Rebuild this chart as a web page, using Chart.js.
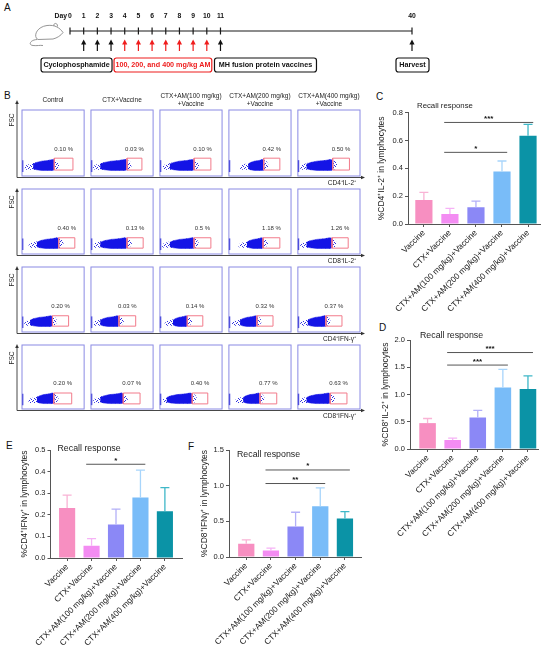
<!DOCTYPE html>
<html><head><meta charset="utf-8">
<script src="https://cdn.jsdelivr.net/npm/chart.js@4.4.1/dist/chart.umd.min.js"></script>
<style>
html,body{margin:0;padding:0;background:#fff;}
body{width:550px;height:653px;overflow:hidden;position:relative;font-family:'Liberation Sans',Arial,sans-serif;}
canvas{position:absolute;}
.pl{position:absolute;font-size:10px;line-height:10px;color:#111;}
</style></head><body>
<div class="pl" style="left:4px;top:3px">A</div>
<div class="pl" style="left:4px;top:91px">B</div>
<div class="pl" style="left:376px;top:92px">C</div>
<div class="pl" style="left:379px;top:323px">D</div>
<div class="pl" style="left:6px;top:441px">E</div>
<div class="pl" style="left:188px;top:442px">F</div>
<script>
// ---------------- data ----------------
const timelineDays = [0,1,2,3,4,5,6,7,8,9,10,11,40];
const cyclophosphamideDays = [1,2,3];
const amDays = [4,5,6,7,8,9,10];
const vaccineDays = [11];
const harvestDays = [40];
const stepLabels = ['Cyclophosphamide','100, 200, and 400 mg/kg AM','MH fusion protein vaccines','Harvest'];

const flowGroups = [['Control'],['CTX+Vaccine'],['CTX+AM(100 mg/kg)','+Vaccine'],['CTX+AM(200 mg/kg)','+Vaccine'],['CTX+AM(400 mg/kg)','+Vaccine']];
const flowMarkers = ['CD4⁺IL-2⁺','CD8⁺IL-2⁺','CD4⁺IFN-γ⁺','CD8⁺IFN-γ⁺'];
const flowPercents = [
  ['0.10 %','0.03 %','0.10 %','0.42 %','0.50 %'],
  ['0.40 %','0.13 %','0.5 %','1.18 %','1.26 %'],
  ['0.20 %','0.03 %','0.14 %','0.32 %','0.37 %'],
  ['0.20 %','0.07 %','0.40 %','0.77 %','0.63 %']];
const gateLeft  = [[52,58,55,56,56],[59,58,55,55,55],[49,45,44,45,45],[51,52,52,50,52]];
const gateRight = [[82,82,82,82,83],[85,84,82,82,81],[75,72,69,71,71],[80,79,77,77,79]];
const gateLow  = [9,9,9,8];
const gateHigh = [27,25,25,25];
const cloudStart = [[18,15,16,31,14],[24,15,16,29,14],[13,15,21,18,16],[24,15,11,23,14]];
const cloudT     = [0,0.15,0.4,0.7,0.92,1];
const cloudUpper = [18,20.5,22.5,23.5,25,24];
const cloudLower = [11,9.5,8.5,8.5,8.5,9.5];

const groups = ['Vaccine','CTX+Vaccine','CTX+AM(100 mg/kg)+Vaccine','CTX+AM(200 mg/kg)+Vaccine','CTX+AM(400 mg/kg)+Vaccine'];
const cd4Il2Mean = [0.172,0.072,0.12,0.378,0.634];
const cd4Il2Err  = [0.056,0.041,0.045,0.075,0.082];
const cd8Il2Mean = [0.475,0.165,0.578,1.13,1.10];
const cd8Il2Err  = [0.085,0.035,0.132,0.33,0.24];
const cd4IfnMean = [0.231,0.057,0.155,0.28,0.217];
const cd4IfnErr  = [0.06,0.033,0.071,0.127,0.109];
const cd8IfnMean = [0.186,0.092,0.427,0.711,0.538];
const cd8IfnErr  = [0.054,0.033,0.2,0.259,0.098];
const cd4Il2Sig = [[1,3,0.515,'*'],[1,4,0.73,'***']];
const cd8Il2Sig = [[1,3,1.54,'***'],[1,4,1.77,'***']];
const cd4IfnSig = [[1,3,0.434,'*']];
const cd8IfnSig = [[1,3,1.03,'**'],[1,4,1.22,'*']];

// ---------------- styles ----------------
const barColors = ['#f78fc1','#f38cf2','#8b88f6','#79bcf8','#0b93a6'];
const errColors = ['#f9b3d5','#f6b2f6','#b3b0f8','#a8d5fb','#3fb8c8'];
const FONT = "'Liberation Sans', Arial, sans-serif";

Chart.defaults.font.family = FONT;
Chart.defaults.color = '#222';
Chart.defaults.animation = false;
Chart.defaults.events = [];
Chart.defaults.plugins.legend.display = false;
Chart.defaults.plugins.tooltip.enabled = false;

function makeCanvas(left, top, w, h) {
  const c = document.createElement('canvas');
  c.width = w; c.height = h;
  c.style.left = left + 'px'; c.style.top = top + 'px';
  c.style.width = w + 'px'; c.style.height = h + 'px';
  document.body.appendChild(c);
  return c;
}
function rrect(ctx, x, y, w, h, r) {
  ctx.beginPath();
  ctx.moveTo(x + r, y); ctx.lineTo(x + w - r, y); ctx.quadraticCurveTo(x + w, y, x + w, y + r);
  ctx.lineTo(x + w, y + h - r); ctx.quadraticCurveTo(x + w, y + h, x + w - r, y + h);
  ctx.lineTo(x + r, y + h); ctx.quadraticCurveTo(x, y + h, x, y + h - r);
  ctx.lineTo(x, y + r); ctx.quadraticCurveTo(x, y, x + r, y); ctx.closePath();
}
// speckle pattern for the sparse part of the flow clouds
const speckle = (() => {
  const p = document.createElement('canvas'); p.width = 4; p.height = 4;
  const g = p.getContext('2d'); g.fillStyle = '#3030e0';
  [[0,0],[2,1],[1,3],[3,2]].forEach(([x, y]) => g.fillRect(x, y, 1, 1));
  return g.createPattern(p, 'repeat');
})();

// ---------------- A: timeline ----------------
const slotOf = d => d <= 11 ? d : 25;
const timelinePlugin = {
  id: 'timeline',
  afterDraw(chart) {
    const ctx = chart.ctx, xs = chart.scales.x, y0 = chart.scales.y.getPixelForValue(0);
    const px = d => xs.getPixelForValue(slotOf(d));
    ctx.save();
    ctx.fillStyle = '#111'; ctx.font = 'bold 6.8px ' + FONT;
    ctx.textAlign = 'center'; ctx.textBaseline = 'middle';
    timelineDays.forEach(d => ctx.fillText(String(d), px(d), y0 - 15));
    ctx.textAlign = 'right'; ctx.fillText('Day', px(0) - 3, y0 - 15);
    const arrow = (x, color) => {
      ctx.strokeStyle = color; ctx.fillStyle = color; ctx.lineWidth = 1.2;
      ctx.beginPath(); ctx.moveTo(x, y0 + 20); ctx.lineTo(x, y0 + 12); ctx.stroke();
      ctx.beginPath(); ctx.moveTo(x, y0 + 8.5); ctx.lineTo(x - 2.6, y0 + 13.5); ctx.lineTo(x + 2.6, y0 + 13.5); ctx.closePath(); ctx.fill();
    };
    [...cyclophosphamideDays, ...vaccineDays, ...harvestDays].forEach(d => arrow(px(d), '#111'));
    amDays.forEach(d => arrow(px(d), '#f01c1c'));
    const box = (x1, x2, text, color) => {
      ctx.strokeStyle = color; ctx.lineWidth = 1.2;
      rrect(ctx, x1, y0 + 27, x2 - x1, 14, 2.5); ctx.stroke();
      ctx.fillStyle = color; ctx.font = 'bold 7.2px ' + FONT; ctx.textAlign = 'center'; ctx.textBaseline = 'middle';
      ctx.fillText(text, (x1 + x2) / 2, y0 + 34.3);
    };
    box(px(3) - 70, px(3) + 1, stepLabels[0], '#111');
    box(px(3) + 3, px(10) + 5, stepLabels[1], '#ee1c1c');
    box(px(11) - 6, px(11) + 96, stepLabels[2], '#111');
    box(px(40) - 16, px(40) + 17, stepLabels[3], '#111');
    // mouse outline
    ctx.strokeStyle = '#8a8a8a'; ctx.lineWidth = 0.9;
    ctx.beginPath();
    ctx.moveTo(38, 39.5);
    ctx.bezierCurveTo(33, 37, 36, 27, 47, 25.5);
    ctx.bezierCurveTo(55, 24.5, 60, 28, 63, 32.5);
    ctx.bezierCurveTo(61, 35.5, 57, 38, 53, 39);
    ctx.lineTo(38, 39.5); ctx.stroke();
    ctx.beginPath(); ctx.moveTo(54, 26); ctx.bezierCurveTo(53, 22.5, 58, 22.5, 57.5, 26.5); ctx.stroke();
    ctx.beginPath(); ctx.moveTo(37, 39.5); ctx.bezierCurveTo(30, 40, 28, 45, 33, 45.5); ctx.bezierCurveTo(37, 46, 40, 45, 43, 45.5); ctx.stroke();
    ctx.restore();
  }
};
new Chart(makeCanvas(0, 0, 550, 85), {
  type: 'scatter',
  data: { datasets: [{ data: timelineDays.map(d => ({ x: slotOf(d), y: 0 })), showLine: true,
    borderColor: '#1a1a1a', borderWidth: 1.2, pointStyle: 'line', rotation: 90, pointRadius: 3.5,
    pointBorderWidth: 1.2, pointBorderColor: '#1a1a1a', clip: false }] },
  options: { responsive: false, layout: { padding: { left: 70, right: 138, top: 20, bottom: 43 } },
    scales: { x: { type: 'linear', min: 0, max: 25, display: false }, y: { min: -1, max: 1, display: false } } },
  plugins: [timelinePlugin]
});

// ---------------- B: flow plots ----------------
const rowBoxTop = [110, 189, 267, 345];
const rowBoxBottom = [176, 254, 332, 409];
const PITCH = 111;
function flowRow(r) {
  const topExtra = r === 0 ? 26 : 12, bottomExtra = 12;
  const ct = rowBoxTop[r] - topExtra;
  const h = rowBoxBottom[r] + bottomExtra - ct;
  const datasets = [];
  for (let c = 0; c < 5; c++) {
    const ox = c * PITCH, s = cloudStart[r][c], g = gateLeft[r][c], gr = gateRight[r][c];
    const lo = Math.max(3, s - 14);
    datasets.push({ order: 4, data: [{x:ox+lo,y:12},{x:ox+lo+3,y:16.5},{x:ox+s+2,y:20},{x:ox+g-2,y:25.5},{x:ox+g+5,y:22},{x:ox+g+8,y:16},{x:ox+g+5,y:11},{x:ox+g,y:8.5},{x:ox+s,y:9.5},{x:ox+lo+3,y:9.5}],
      showLine: true, fill: 'shape', backgroundColor: speckle, borderWidth: 0, pointRadius: 0 });
    const up = cloudT.map((t, i) => ({ x: ox + s + t * (g - s), y: cloudUpper[i] }));
    const dn = cloudT.map((t, i) => ({ x: ox + s + t * (g - s), y: cloudLower[i] })).reverse();
    datasets.push({ order: 3, data: up.concat(dn), showLine: true, fill: 'shape', backgroundColor: '#1414e6', borderColor: '#1414e6', borderWidth: 0.5, pointRadius: 0 });
    datasets.push({ order: 2, data: [{x:ox+g,y:gateLow[r]},{x:ox+gr,y:gateLow[r]},{x:ox+gr,y:gateHigh[r]},{x:ox+g,y:gateHigh[r]},{x:ox+g,y:gateLow[r]}],
      showLine: true, fill: false, borderColor: '#f27b8b', borderWidth: 1, pointRadius: 0 });
    datasets.push({ order: 1, data: [{x:ox+1,y:6},{x:ox+1,y:24}], showLine: true, fill: false, borderColor: '#2a2ad8', borderWidth: 1.4, pointRadius: 0 });
  }
  const plug = {
    id: 'flow' + r,
    afterDraw(chart) {
      const ctx = chart.ctx, xs = chart.scales.x, ys = chart.scales.y;
      const yb = ys.getPixelForValue(0), yt = ys.getPixelForValue(100);
      ctx.save();
      for (let c = 0; c < 5; c++) {
        const x1 = xs.getPixelForValue(c * PITCH), x2 = xs.getPixelForValue(c * PITCH + 100);
        ctx.strokeStyle = '#8a8ae4'; ctx.lineWidth = 1;
        ctx.strokeRect(x1, yt, x2 - x1, yb - yt);
        ctx.fillStyle = '#333'; ctx.font = '6px ' + FONT; ctx.textAlign = 'center'; ctx.textBaseline = 'middle';
        ctx.fillText(flowPercents[r][c], xs.getPixelForValue(c * PITCH + (gateLeft[r][c] + gateRight[r][c]) / 2), ys.getPixelForValue(40));
        if (r === 0) {
          ctx.fillStyle = '#222'; ctx.font = '6.5px ' + FONT;
          const lines = flowGroups[c], cx = (x1 + x2) / 2;
          if (lines.length === 1) ctx.fillText(lines[0], cx, yt - 10);
          else { ctx.fillText(lines[0], cx, yt - 14); ctx.fillText(lines[1], cx, yt - 6); }
        }
      }
      const ax = xs.getPixelForValue(0) - 5, ay = yb + 1.5;
      const tip = yt - (r === 0 ? 10 : 1);
      const xe = xs.getPixelForValue(5 * PITCH - 11) + 5;
      ctx.strokeStyle = '#333'; ctx.fillStyle = '#333'; ctx.lineWidth = 0.9;
      ctx.beginPath(); ctx.moveTo(ax, ay); ctx.lineTo(ax, tip + 3); ctx.moveTo(ax, ay); ctx.lineTo(xe - 3, ay); ctx.stroke();
      ctx.beginPath(); ctx.moveTo(ax, tip); ctx.lineTo(ax - 1.8, tip + 4); ctx.lineTo(ax + 1.8, tip + 4); ctx.closePath(); ctx.fill();
      ctx.beginPath(); ctx.moveTo(xe, ay); ctx.lineTo(xe - 4, ay - 1.8); ctx.lineTo(xe - 4, ay + 1.8); ctx.closePath(); ctx.fill();
      ctx.fillStyle = '#222'; ctx.font = '6.5px ' + FONT;
      ctx.save(); ctx.translate(ax - 5, yt + (r === 0 ? 10 : 13)); ctx.rotate(-Math.PI / 2);
      ctx.textAlign = 'center'; ctx.textBaseline = 'middle'; ctx.fillText('FSC', 0, 0); ctx.restore();
      ctx.textAlign = 'right'; ctx.textBaseline = 'middle';
      ctx.fillText(flowMarkers[r], xe - 9, ay + 5.5);
      ctx.restore();
    }
  };
  new Chart(makeCanvas(0, ct, 372, h), {
    type: 'scatter',
    data: { datasets },
    options: { responsive: false,
      layout: { padding: { left: 22, right: 12, top: topExtra, bottom: bottomExtra } },
      scales: { x: { type: 'linear', min: 0, max: 5 * PITCH - 11, display: false }, y: { min: 0, max: 100, display: false } } },
    plugins: [plug]
  });
}
for (let r = 0; r < 4; r++) flowRow(r);

// ---------------- C-F: bar charts ----------------
function barChart(o) {
  const ct = Math.round(o.pt - 14);
  const cl = o.cl, cr = Math.round(o.pr + 10);
  const w = cr - cl, h = Math.round(o.pb + o.xh - ct);
  const extras = {
    id: 'extras',
    afterDatasetsDraw(chart) {
      const ctx = chart.ctx, ys = chart.scales.y, xs = chart.scales.x, area = chart.chartArea;
      const bars = chart.getDatasetMeta(0).data;
      ctx.save();
      bars.forEach((b, i) => {
        const yTop = ys.getPixelForValue(o.mean[i] + o.err[i]);
        ctx.strokeStyle = errColors[i]; ctx.lineWidth = 1.3;
        ctx.beginPath(); ctx.moveTo(b.x, b.y); ctx.lineTo(b.x, yTop); ctx.moveTo(b.x - 4.5, yTop); ctx.lineTo(b.x + 4.5, yTop); ctx.stroke();
      });
      const sp = xs.getPixelForValue(1) - xs.getPixelForValue(0);
      o.sig.forEach(([a, b, v, t]) => {
        const y = ys.getPixelForValue(v);
        const x1 = xs.getPixelForValue(a) - 0.22 * sp, x2 = xs.getPixelForValue(b) + 0.2 * sp;
        ctx.strokeStyle = '#555'; ctx.lineWidth = 1;
        ctx.beginPath(); ctx.moveTo(x1, y); ctx.lineTo(x2, y); ctx.stroke();
        ctx.fillStyle = '#111'; ctx.font = 'bold 8px ' + FONT; ctx.textAlign = 'center'; ctx.textBaseline = 'alphabetic';
        ctx.fillText(t, (x1 + x2) / 2, y - 1.5);
      });
      ctx.fillStyle = '#222'; ctx.font = o.titleSize + 'px ' + FONT; ctx.textAlign = 'left'; ctx.textBaseline = 'middle';
      ctx.fillText('Recall response', area.left + o.tdx, area.top + o.tdy);
      ctx.restore();
    }
  };
  return new Chart(makeCanvas(cl, ct, w, h), {
    type: 'bar',
    data: { datasets: [{ data: o.mean.map((v, i) => ({ x: i, y: v })), backgroundColor: barColors, borderWidth: 0,
      barPercentage: 0.66, categoryPercentage: 1 }] },
    options: { responsive: false,
      layout: { padding: { left: 0, right: cr - o.pr, top: o.pt - ct, bottom: 0 } },
      scales: {
        x: { type: 'linear', min: o.xmin, max: o.xmax, offset: false,
          afterBuildTicks: s => { s.ticks = groups.map((g, i) => ({ value: i })); },
          afterFit: s => { s.height = o.xh; },
          ticks: { callback: v => groups[v], autoSkip: false, minRotation: 45, maxRotation: 45, font: { size: 8.3 }, color: '#222', padding: 1 },
          grid: { drawOnChartArea: false, offset: false, tickLength: 3, color: '#555', lineWidth: 1 },
          border: { display: true, color: '#555', width: 1 } },
        y: { min: 0, max: o.ymax,
          afterFit: s => { s.width = o.pl - cl; },
          ticks: { stepSize: o.step, callback: v => v.toFixed(1), font: { size: 7.5 }, color: '#222', padding: 2 },
          grid: { drawOnChartArea: false, tickLength: 3, color: '#555', lineWidth: 1 },
          border: { display: true, color: '#555', width: 1 },
          title: { display: true, text: o.yTitle, font: { size: 8.5 }, color: '#222', padding: 0 } }
      } },
    plugins: [extras]
  });
}

barChart({ mean: cd4Il2Mean, err: cd4Il2Err, sig: cd4Il2Sig, yTitle: '%CD4⁺IL-2⁺ in lymphocytes',
  pl: 408, pr: 540, pt: 112.7, pb: 224, cl: 377, xh: 95, xmin: -0.61, xmax: 4.46, ymax: 0.8, step: 0.2, tdx: 9, tdy: -6.5, titleSize: 7.8 });
barChart({ mean: cd8Il2Mean, err: cd8Il2Err, sig: cd8Il2Sig, yTitle: '%CD8⁺IL-2⁺ in lymphocytes',
  pl: 410, pr: 538, pt: 340, pb: 449.3, cl: 381, xh: 95, xmin: -0.7, xmax: 4.4, ymax: 2.0, step: 0.5, tdx: 10, tdy: -4, titleSize: 8.8 });
barChart({ mean: cd4IfnMean, err: cd4IfnErr, sig: cd4IfnSig, yTitle: '%CD4⁺IFNγ⁺ in lymphocytes',
  pl: 50.5, pr: 182, pt: 450, pb: 558.3, cl: 20, xh: 95, xmin: -0.68, xmax: 4.7, ymax: 0.5, step: 0.1, tdx: 7, tdy: -1, titleSize: 8.8 });
barChart({ mean: cd8IfnMean, err: cd8IfnErr, sig: cd8IfnSig, yTitle: '%CD8⁺IFNγ⁺ in lymphocytes',
  pl: 229, pr: 361.7, pt: 450, pb: 557.3, cl: 200, xh: 95, xmin: -0.7, xmax: 4.68, ymax: 1.5, step: 0.5, tdx: 8, tdy: 5, titleSize: 8.8 });
</script>
</body></html>
